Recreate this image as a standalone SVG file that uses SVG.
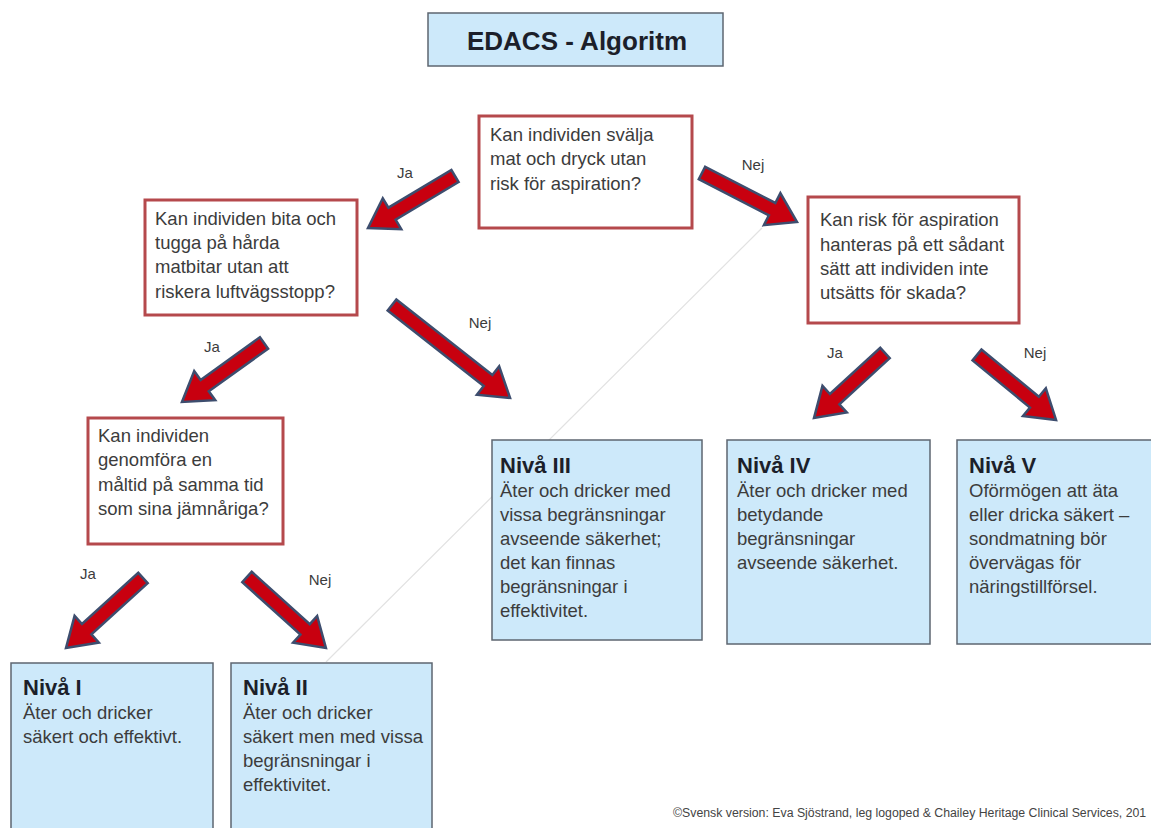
<svg xmlns="http://www.w3.org/2000/svg" width="1151" height="828" viewBox="0 0 1151 828">
<style>
.q{fill:#fff;stroke:#b5494c;stroke-width:3}
.lv{fill:#cde9fa;stroke:#5d6670;stroke-width:1.5}
.t{font-family:"Liberation Sans",Arial,sans-serif;font-size:18.5px;fill:#3c3c3c}
.h{font-family:"Liberation Sans",Arial,sans-serif;font-size:22px;font-weight:bold;fill:#1c1f2a}
.lbl{font-family:"Liberation Sans",Arial,sans-serif;font-size:15px;fill:#3c3c3c}
.ar{fill:#c8000f;stroke:#3d4d6e;stroke-width:2.5;stroke-linejoin:miter}
</style>
<rect width="1151" height="828" fill="#fff"/>
<line x1="762" y1="228" x2="326" y2="662" stroke="#e2e2e2" stroke-width="1.2"/>
<g id="title">
<rect x="428" y="13" width="295" height="53" fill="#cde9fa" stroke="#5d6670" stroke-width="1.5"/>
<text x="577" y="50" text-anchor="middle" font-family="Liberation Sans,Arial,sans-serif" font-size="26" font-weight="bold" fill="#1c1f2a">EDACS - Algoritm</text>
</g>
<g id="q1">
<rect class="q" x="479" y="116" width="213" height="112"/>
<text class="t"><tspan x="490" y="141">Kan individen svälja</tspan><tspan x="490" y="165">mat och dryck utan</tspan><tspan x="490" y="190">risk för aspiration?</tspan></text>
</g>
<g id="q2">
<rect class="q" x="145" y="200" width="212" height="115"/>
<text class="t"><tspan x="155" y="225">Kan individen bita och</tspan><tspan x="155" y="249">tugga på hårda</tspan><tspan x="155" y="273">matbitar utan att</tspan><tspan x="155" y="298">riskera luftvägsstopp?</tspan></text>
</g>
<g id="q3">
<rect class="q" x="808" y="197" width="211" height="126"/>
<text class="t"><tspan x="820" y="226">Kan risk för aspiration</tspan><tspan x="820" y="251">hanteras på ett sådant</tspan><tspan x="820" y="275">sätt att individen inte</tspan><tspan x="820" y="299">utsätts för skada?</tspan></text>
</g>
<g id="q4">
<rect class="q" x="88" y="418" width="195" height="126"/>
<text class="t"><tspan x="98" y="442">Kan individen</tspan><tspan x="98" y="466">genomföra en</tspan><tspan x="98" y="491">måltid på samma tid</tspan><tspan x="98" y="515">som sina jämnåriga?</tspan></text>
</g>
<g id="niva3">
<rect class="lv" x="492" y="440" width="210" height="200"/>
<text class="h" x="500" y="473">Nivå III</text>
<text class="t"><tspan x="500" y="497">Äter och dricker med</tspan><tspan x="500" y="521">vissa begränsningar</tspan><tspan x="500" y="545">avseende säkerhet;</tspan><tspan x="500" y="569">det kan finnas</tspan><tspan x="500" y="593">begränsningar i</tspan><tspan x="500" y="617">effektivitet.</tspan></text>
</g>
<g id="niva4">
<rect class="lv" x="727" y="440" width="203" height="204"/>
<text class="h" x="737" y="473">Nivå IV</text>
<text class="t"><tspan x="737" y="497">Äter och dricker med</tspan><tspan x="737" y="521">betydande</tspan><tspan x="737" y="545">begränsningar</tspan><tspan x="737" y="569">avseende säkerhet.</tspan></text>
</g>
<g id="niva5">
<rect class="lv" x="957" y="440" width="200" height="204"/>
<text class="h" x="969" y="473">Nivå V</text>
<text class="t"><tspan x="969" y="497">Oförmögen att äta</tspan><tspan x="969" y="521">eller dricka säkert –</tspan><tspan x="969" y="545">sondmatning bör</tspan><tspan x="969" y="569">övervägas för</tspan><tspan x="969" y="593">näringstillförsel.</tspan></text>
</g>
<g id="niva1">
<rect class="lv" x="11" y="663" width="202" height="175"/>
<text class="h" x="23" y="695">Nivå I</text>
<text class="t"><tspan x="23" y="719">Äter och dricker</tspan><tspan x="23" y="743">säkert och effektivt.</tspan></text>
</g>
<g id="niva2">
<rect class="lv" x="231" y="663" width="201" height="175"/>
<text class="h" x="243" y="695">Nivå II</text>
<text class="t"><tspan x="243" y="719">Äter och dricker</tspan><tspan x="243" y="743">säkert men med vissa</tspan><tspan x="243" y="767">begränsningar i</tspan><tspan x="243" y="791">effektivitet.</tspan></text>
</g>
<g id="connectors">
<polygon class="ar" transform="translate(455,176) rotate(149.1)" points="0,-7 73.4,-7 73.4,-18 101.4,0 73.4,18 73.4,7 0,7"/>
<polygon class="ar" transform="translate(702,173) rotate(27.3)" points="0,-7 78.9,-7 78.9,-18 106.9,0 78.9,18 78.9,7 0,7"/>
<polygon class="ar" transform="translate(392,305) rotate(38.2)" points="0,-7 122.2,-7 122.2,-18 150.2,0 122.2,18 122.2,7 0,7"/>
<polygon class="ar" transform="translate(264,343) rotate(144.3)" points="0,-7 73,-7 73,-18 101,0 73,18 73,7 0,7"/>
<polygon class="ar" transform="translate(885,353) rotate(137.5)" points="0,-7 68.3,-7 68.3,-18 96.3,0 68.3,18 68.3,7 0,7"/>
<polygon class="ar" transform="translate(977,355) rotate(39.4)" points="0,-7 74.3,-7 74.3,-18 102.3,0 74.3,18 74.3,7 0,7"/>
<polygon class="ar" transform="translate(143,578) rotate(137.7)" points="0,-7 76.1,-7 76.1,-18 104.1,0 76.1,18 76.1,7 0,7"/>
<polygon class="ar" transform="translate(247,577) rotate(42)" points="0,-7 78.2,-7 78.2,-18 106.2,0 78.2,18 78.2,7 0,7"/>
<text class="lbl" x="405" y="178" text-anchor="middle">Ja</text>
<text class="lbl" x="753" y="170" text-anchor="middle">Nej</text>
<text class="lbl" x="480" y="328" text-anchor="middle">Nej</text>
<text class="lbl" x="212" y="352" text-anchor="middle">Ja</text>
<text class="lbl" x="835" y="358" text-anchor="middle">Ja</text>
<text class="lbl" x="1035" y="358" text-anchor="middle">Nej</text>
<text class="lbl" x="88" y="579" text-anchor="middle">Ja</text>
<text class="lbl" x="320" y="585" text-anchor="middle">Nej</text>
</g>
<text x="673" y="817" font-family="Liberation Sans,Arial,sans-serif" font-size="12.3" fill="#444">©Svensk version: Eva Sjöstrand, leg logoped &amp; Chailey Heritage Clinical Services, 201</text>
</svg>
